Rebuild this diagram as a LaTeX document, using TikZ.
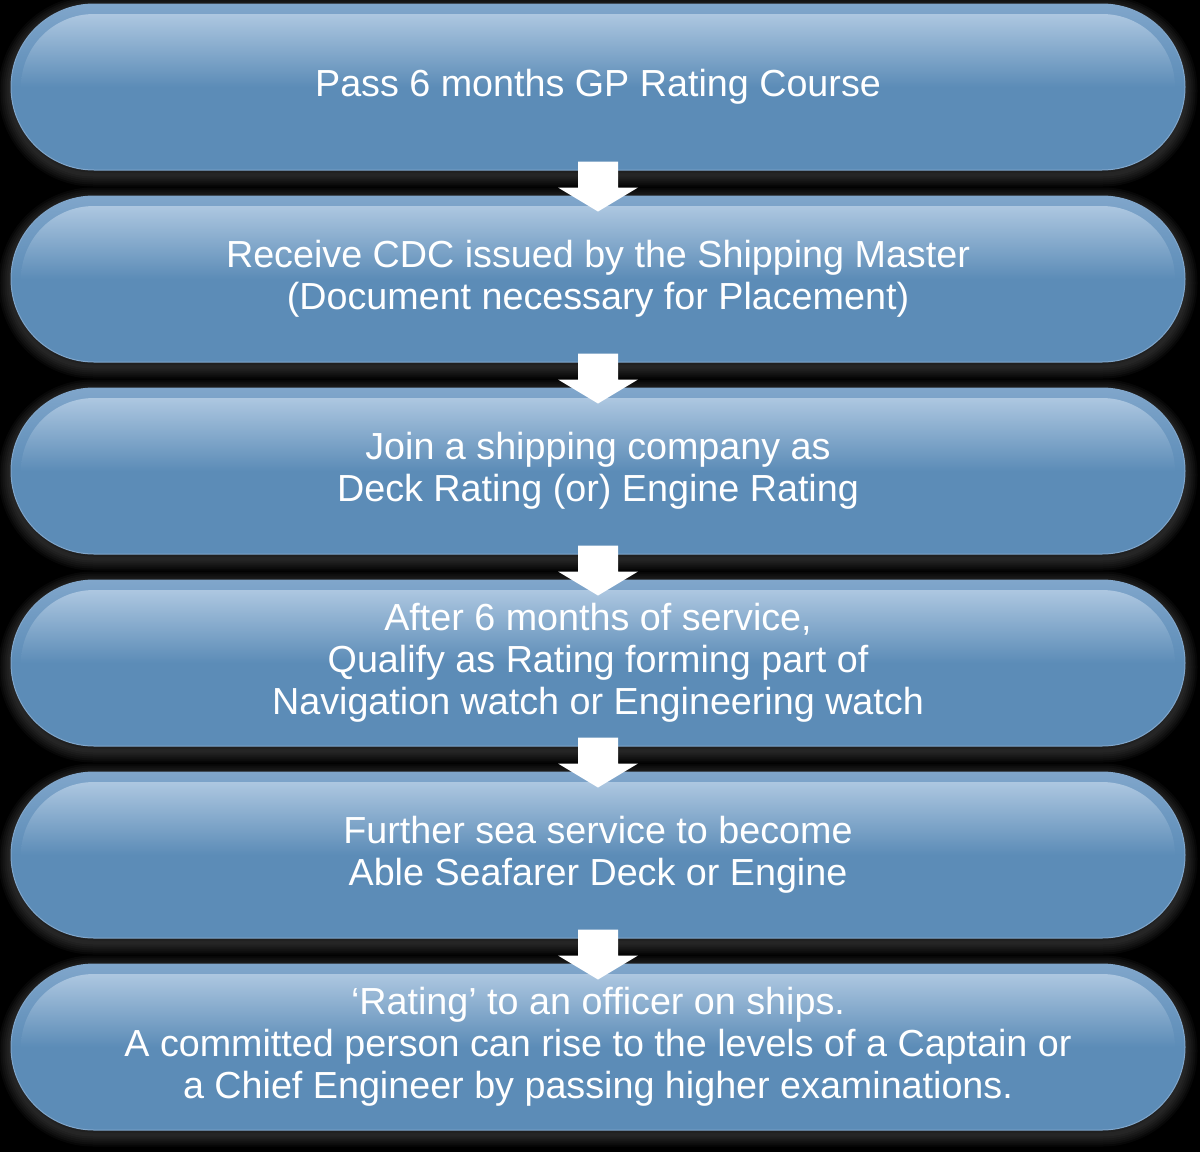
\documentclass[tikz,border=0pt]{standalone}
\usepackage{fontspec}
\setmainfont{Liberation Sans}
\usetikzlibrary{positioning, calc, backgrounds}

\begin{document}
\begin{tikzpicture}[x=1pt, y=-1pt, line join=round]
	\def\gap{25pt}
	
	\definecolor{stageblue}{RGB}{92,140,183}
	\definecolor{stageline}{RGB}{128,166,203}
	\definecolor{glosstop}{RGB}{184,207,230}
	
	\tikzset{
		gloss/.style={top color=glosstop, bottom color=stageblue, middle color=stageblue, rounded corners=73pt},
		stage/.style={rounded corners=83pt, minimum width=1174pt, minimum height=166pt,
			top color=stageline, bottom color=stageblue, middle color=stageblue, draw=stageline, line width=1pt,
			text=white, align=center, font=\fontsize{37.7}{42}\selectfont,
			path picture={\shade[gloss] ($(path picture bounding box.north west)+(10,10)$) rectangle ($(path picture bounding box.south east)+(-10,-10)$);}},
		glow/.style={draw=gray, rounded corners=83pt, draw opacity=0.06},
		blockarrow/.style={fill=white}
	}
	
	\newcommand{\downblock}[2]{
		\fill[blockarrow] ($(#1.south)+(-20,-9)$) -- ($(#1.south)+(20,-9)$) -- ($(#1.south)+(20,17)$) -- ($(#1.south)+(40,17)$)
			-- ($(#2.north)+(0,16)$) -- ($(#1.south)+(-40,17)$) -- ($(#1.south)+(-20,17)$) -- cycle;
	}
	
	\useasboundingbox (0,0) rectangle (1200,1152);
	
	\node[stage] (pass) at (598,87) {Pass 6 months GP Rating Course};
	\node[stage, below=\gap of pass] (cdc) {Receive CDC issued by the Shipping Master\\(Document necessary for Placement)};
	\node[stage, below=\gap of cdc] (join) {Join a shipping company as\\Deck Rating (or) Engine Rating};
	\node[stage, below=\gap of join] (watch) {After 6 months of service,\\Qualify as Rating forming part of\\Navigation watch or Engineering watch};
	\node[stage, below=\gap of watch] (able) {Further sea service to become\\Able Seafarer Deck or Engine};
	\node[stage, below=\gap of able] (officer) {‘Rating’ to an officer on ships.\\A committed person can rise to the levels of a Captain or\\a Chief Engineer by passing higher examinations.};
	
	\begin{scope}[on background layer]
		\fill[black] (0,0) rectangle (1200,1152);
		\foreach \n in {pass,cdc,join,watch,able,officer}
			\foreach \k in {1,...,6}
				\draw[glow, line width=\k*4pt] ([yshift=-4pt]\n.north west) rectangle ([yshift=-4pt]\n.south east);
	\end{scope}
	
	\downblock{pass}{cdc}
	\downblock{cdc}{join}
	\downblock{join}{watch}
	\downblock{watch}{able}
	\downblock{able}{officer}
	
\end{tikzpicture}
\end{document}
